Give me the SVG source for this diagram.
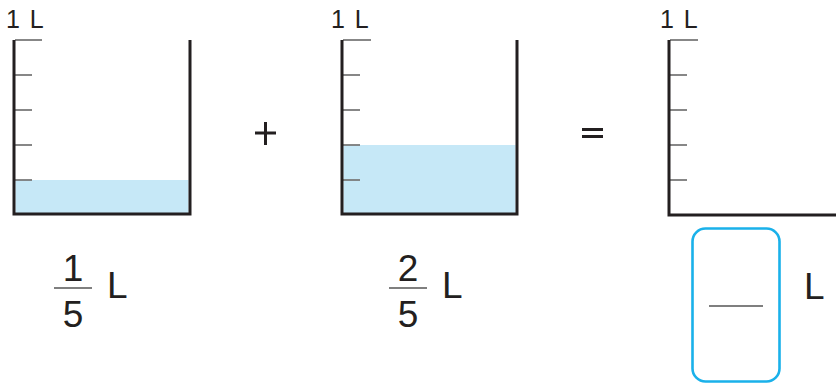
<svg xmlns="http://www.w3.org/2000/svg" width="836" height="383" viewBox="0 0 836 383">
<style>
.wall{fill:none;stroke:#231f20;stroke-width:3;stroke-linecap:butt}
.tick{stroke:#7a7a7a;stroke-width:1.8}
.water{fill:#c6e8f7}
.lbl{font-family:"Liberation Sans",Arial,sans-serif;font-size:25px;fill:#231f20}
.big{font-family:"Liberation Sans",Arial,sans-serif;font-size:37px;fill:#231f20}
.frac{stroke:#555;stroke-width:1.6}
.op{stroke:#231f20;stroke-width:3}
</style>
<rect width="836" height="383" fill="#fff"/>
<g id="beaker1">
  <rect class="water" x="15.5" y="180" width="173" height="33"/>
  <line class="tick" x1="15" y1="40" x2="42" y2="40"/>
  <line class="tick" x1="15" y1="75" x2="32" y2="75"/>
  <line class="tick" x1="15" y1="110" x2="32" y2="110"/>
  <line class="tick" x1="15" y1="145" x2="32" y2="145"/>
  <line class="tick" x1="15" y1="180" x2="32" y2="180"/>
  <polyline class="wall" points="14,40 14,214 190,214 190,40"/>
  <text class="lbl" x="6" y="28" word-spacing="3">1 L</text>
</g>
<g id="plus">
  <line class="op" x1="255" y1="133" x2="276" y2="133"/>
  <line class="op" x1="265.5" y1="122" x2="265.5" y2="145"/>
</g>
<g id="beaker2">
  <rect class="water" x="343.5" y="145" width="172" height="68"/>
  <line class="tick" x1="343" y1="40" x2="371" y2="40"/>
  <line class="tick" x1="343" y1="75" x2="360" y2="75"/>
  <line class="tick" x1="343" y1="110" x2="360" y2="110"/>
  <line class="tick" x1="343" y1="145" x2="360" y2="145"/>
  <line class="tick" x1="343" y1="180" x2="360" y2="180"/>
  <polyline class="wall" points="342,40 342,214 517,214 517,40"/>
  <text class="lbl" x="331" y="28" word-spacing="3">1 L</text>
</g>
<g id="equals">
  <line class="op" x1="582" y1="129.5" x2="603" y2="129.5"/>
  <line class="op" x1="582" y1="136.5" x2="603" y2="136.5"/>
</g>
<g id="beaker3">
  <line class="tick" x1="670" y1="40" x2="698" y2="40"/>
  <line class="tick" x1="670" y1="75" x2="687" y2="75"/>
  <line class="tick" x1="670" y1="110" x2="687" y2="110"/>
  <line class="tick" x1="670" y1="145" x2="687" y2="145"/>
  <line class="tick" x1="670" y1="180" x2="687" y2="180"/>
  <polyline class="wall" points="669,40 669,215 836,215"/>
  <text class="lbl" x="660" y="28" word-spacing="3">1 L</text>
</g>
<g id="fraction1">
  <text class="big" x="73" y="281" text-anchor="middle">1</text>
  <line class="frac" x1="54" y1="288" x2="92" y2="288"/>
  <text class="big" x="73" y="327" text-anchor="middle">5</text>
  <text class="big" x="107" y="298">L</text>
</g>
<g id="fraction2">
  <text class="big" x="408" y="281" text-anchor="middle">2</text>
  <line class="frac" x1="389" y1="288" x2="427" y2="288"/>
  <text class="big" x="408" y="327" text-anchor="middle">5</text>
  <text class="big" x="442" y="298">L</text>
</g>
<g id="answer">
  <rect x="692.5" y="228.5" width="87" height="153" rx="13" ry="13" fill="none" stroke="#1ab1ea" stroke-width="2.6"/>
  <line class="frac" x1="709" y1="306" x2="763" y2="306"/>
  <text class="big" x="804" y="299">L</text>
</g>
</svg>
